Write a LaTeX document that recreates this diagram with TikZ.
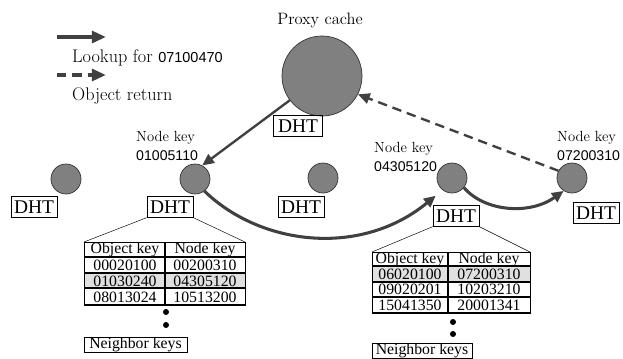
\documentclass[tikz,border=0pt]{standalone}
\usepackage{fontspec}
\usepackage{tikz}
\usetikzlibrary{arrows.meta}
\newfontfamily\tabfont{Liberation Serif}
\newfontfamily\keyfont{Liberation Sans}
\newcommand\dhtfont{\tabfont\fontsize{16.5}{18}\selectfont}

\begin{document}
\begin{tikzpicture}[x=0.85pt,y=-0.85pt,
  peer/.style={circle,draw=black!80,fill=black!50,line width=0.6pt,minimum size=25.5pt,inner sep=0pt},
  dht/.style={draw,line width=0.6pt,font=\dhtfont,inner sep=1pt,minimum height=17.5pt,minimum width=39pt},
  lookup/.style={draw=black!75,line width=2pt,-{Triangle[length=10pt,width=9pt]}},
  objret/.style={lookup,dash pattern=on 8pt off 5pt},
  keylab/.style={align=left,anchor=west,inner sep=0pt,font=\fontsize{12.5}{15.5}\selectfont},
  cell/.style={inner sep=0pt,font=\tabfont\fontsize{13.4}{14}\selectfont},
  tabline/.style={line width=1.2pt}]
\useasboundingbox (0,0) rectangle (623,358);

% legend
\coordinate (legA) at (57,37);
\coordinate (legB) at (106,37);
\coordinate (legC) at (57,75);
\coordinate (legD) at (106,75);
\draw [lookup,line width=3.2pt,-{Triangle[length=12pt,width=10pt]}] (legA) -- (legB);
\draw [objret,line width=3.2pt,-{Triangle[length=12pt,width=10pt]}] (legC) -- (legD);
\node [anchor=west,inner sep=0pt,font=\fontsize{15.5}{17}\selectfont] (legtxt1) at (72,58) {Lookup for {\keyfont\fontsize{12.3}{14}\selectfont 07100470}};
\node [anchor=west,inner sep=0pt,font=\fontsize{15.5}{17}\selectfont] (legtxt2) at (72,96) {Object return};

% proxy
\node [font=\fontsize{14}{16}\selectfont] (proxylab) at (320,20) {Proxy cache};
\node [peer,minimum size=68pt] (proxy) at (322,76) {};
\node [dht,minimum width=42pt] (dproxy) at (298,126) {DHT};

% peers
\node [peer] (n1) at (66,179) {};
\node [peer] (n2) at (195,179) {};
\node [peer] (n3) at (323,178) {};
\node [peer] (n4) at (452,178) {};
\node [peer] (n5) at (572,178) {};
\node [dht] (d1) at (34,207) {DHT};
\node [dht] (d2) at (170,207) {DHT};
\node [dht] (d3) at (301,207) {DHT};
\node [dht] (d4) at (456,216) {DHT};
\node [dht] (d5) at (596,213) {DHT};

\node [keylab] (k2) at (136,146) {Node key\\{\keyfont\fontsize{12}{15.5}\selectfont 01005110}};
\node [keylab] (k4) at (374,157) {Node key\\{\keyfont\fontsize{12}{15.5}\selectfont 04305120}};
\node [keylab] (k5) at (557,146) {Node key\\{\keyfont\fontsize{12}{15.5}\selectfont 07200310}};

% routing
\draw [lookup] (proxy.217) -- (n2.62);
\draw [lookup,line width=2.6pt,shorten >=7.5pt] (n2.-52) .. controls (260,245) and (360,258) .. (n4.-128);
\draw [lookup,line width=2.6pt] (n4.-39) .. controls (485,212) and (530,215) .. (n5.-123);
\draw [objret] (n5.152) -- (proxy.-27);

% table of 01005110
\coordinate (tA-nw) at (84,242);
\coordinate (tA-ne) at (245,242);
\fill [black!12] (84,273) rectangle (245,288);
\draw [line width=0.6pt] (tA-nw) rectangle (245,305);
\foreach \y in {257,273,288,305}
  \draw [tabline] (84,\y) -- (245,\y);
\draw [tabline] (165,242) -- (165,305);
\foreach \a/\b [count=\i] in {Object key/Node key,00020100/00200310,01030240/04305120,08013024/10513200} {
  \node [cell] (tAa\i) at (125,234+15.75*\i) {\a};
  \node [cell] (tAb\i) at (205,234+15.75*\i) {\b};
}
\draw [thin] (d2.south west) -- (tA-nw);
\draw [thin] (d2.south east) -- (tA-ne);
\fill (166,312) circle (3);
\fill (166,325) circle (3);
\node [draw,cell,line width=0.6pt,minimum width=87.5pt,minimum height=12.8pt] (nbA) at (135.5,344.5) {Neighbor keys};

% table of 04305120
\coordinate (tB-nw) at (372,252);
\coordinate (tB-ne) at (530,252);
\fill [black!12] (372,266) rectangle (530,282);
\draw [line width=0.6pt] (tB-nw) rectangle (530,313);
\foreach \y in {266,282,297,313}
  \draw [tabline] (372,\y) -- (530,\y);
\draw [tabline] (448,252) -- (448,313);
\foreach \a/\b [count=\i] in {Object key/Node key,06020100/07200310,09020201/10203210,15041350/20001341} {
  \node [cell] (tBa\i) at (410,244+15.25*\i) {\a};
  \node [cell] (tBb\i) at (489,244+15.25*\i) {\b};
}
\draw [thin] (d4.south west) -- (tB-nw);
\draw [thin] (d4.south east) -- (tB-ne);
\fill (453,322) circle (3);
\fill (453,334) circle (3);
\node [draw,cell,line width=0.6pt,minimum width=85pt,minimum height=12.8pt] (nbB) at (422,350.5) {Neighbor keys};
\end{tikzpicture}
\end{document}
